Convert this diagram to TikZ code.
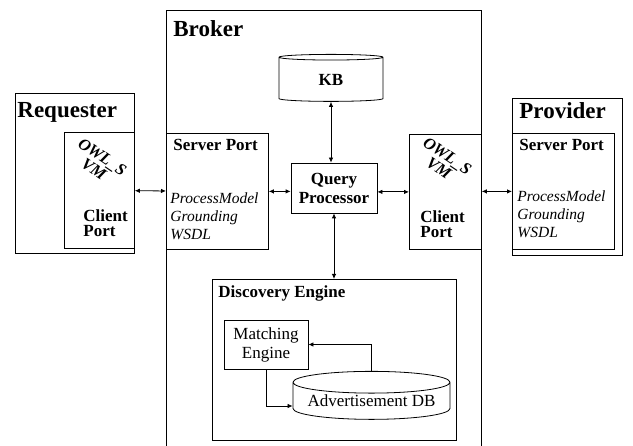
\documentclass[tikz,border=0pt]{standalone}
\usepackage{fontspec}
\setmainfont{Liberation Serif}
\usepackage{tikz}
\usetikzlibrary{arrows.meta,shapes,positioning,calc}

\begin{document}
\begin{tikzpicture}[x=1pt,y=-1pt,line width=0.8pt,
  box/.style={draw, anchor=north west, inner sep=0pt},
  cyl/.style={draw, cylinder, shape border rotate=90, inner sep=0pt},
  title/.style={anchor=base west, inner sep=0pt, font=\fontsize{23}{25}\selectfont\bfseries},
  label/.style={anchor=base west, inner sep=0pt, align=left, font=\fontsize{17}{15}\selectfont\bfseries},
  slots/.style={anchor=base west, inner sep=0pt, align=left, font=\fontsize{15.5}{18}\selectfont\itshape},
  owls/.style={rotate=-34, inner sep=0pt, align=center, font=\fontsize{16.5}{15}\selectfont\bfseries\itshape},
  link/.style={{Latex[length=5pt,width=4.5pt]}-{Latex[length=5pt,width=4.5pt]}},
  flow/.style={-{Latex[length=5pt,width=4.5pt]}}]
\useasboundingbox (0,0) rectangle (633,446);
\node (req) at (15,93) [box, minimum width=119, minimum height=160] {};
\node (reqcp) at (64,132) [box, minimum width=70, minimum height=116] {};
\node (broker) at (166,10) [box, minimum width=315, minimum height=450] {};
\node (brsp) at (166,133) [box, minimum width=102, minimum height=116] {};
\node (rcp) at (409,134) [box, minimum width=72, minimum height=115] {};
\node (prov) at (512,98) [box, minimum width=110, minimum height=157] {};
\node (prsp) at (512,133) [box, minimum width=102, minimum height=116] {};
\node (kb) at (331,79.5) [cyl, minimum width=104, minimum height=47, aspect=0.23, font=\fontsize{17}{19}\selectfont\bfseries] {KB};
\node (qp) at (334,188) [draw, minimum width=86, minimum height=50, align=center, inner sep=0pt, font=\fontsize{17}{19}\selectfont\bfseries] {Query\\Processor};
\node (de) at (212,279) [box, minimum width=244, minimum height=161] {};
\node (me) at (266,344.5) [draw, minimum width=84, minimum height=49, align=center, inner sep=0pt, font=\fontsize{17}{19}\selectfont] {Matching\\Engine};
\node (adb) at (371.5,401) [cyl, minimum width=157, minimum height=48, aspect=0.17, font=\fontsize{17}{19}\selectfont] {Advertisement DB};
\node (reqt) at (17,118) [title] {Requester};
\node (brokert) at (173,37) [title] {Broker};
\node (provt) at (519,119) [title] {Provider};
\node (lowls) at (98,163) [owls] {OWL\_S\\VM};
\node (rowls) at (443,162) [owls] {OWL\_S\\VM};
\node (lcpt) at (83,237) [label] {Client\\Port};
\node (rcpt) at (420,238) [label] {Client\\Port};
\node (lspt) at (173,151) [label] {Server Port};
\node (rspt) at (519,151) [label] {Server Port};
\node (lslots) at (170,240) [slots] {ProcessModel\\Grounding\\WSDL};
\node (rslots) at (517,238) [slots] {ProcessModel\\Grounding\\WSDL};
\node (det) at (218,298) [label] {Discovery Engine};
\draw [link] (reqcp) -- (brsp);
\draw [link] (brsp.east) -- (brsp.east -| qp.west);
\draw [link] (qp.east |- rcp.west) -- (rcp.west);
\draw [link] (prsp.west -| broker.east) -- (prsp.west);
\draw [link] (kb.south) -- (kb.south |- qp.north);
\draw [link] (qp.south) -- (qp.south |- de.north);
\draw [flow] (me.south) |- ($(adb.west)+(0,5)$);
\draw [flow] (adb.north) |- (me.east);
\end{tikzpicture}
\end{document}
